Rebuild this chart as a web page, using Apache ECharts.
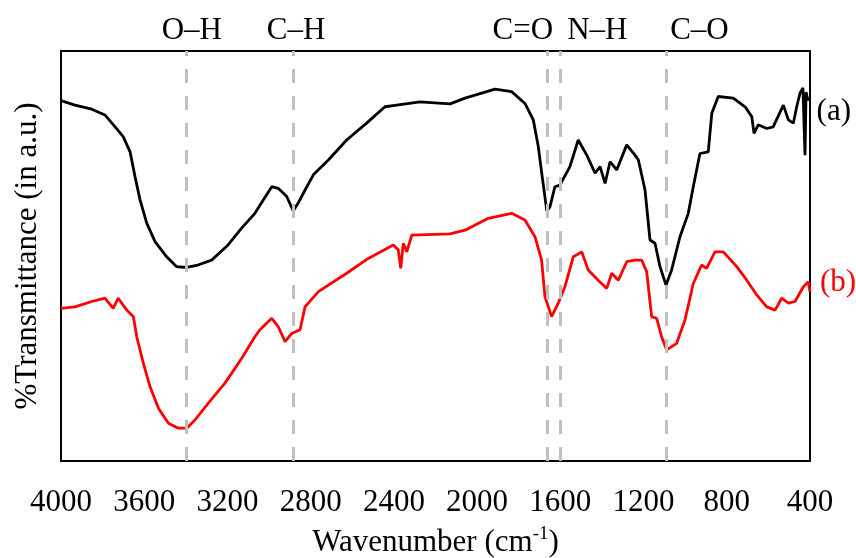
<!DOCTYPE html>
<html>
<head>
<meta charset="utf-8">
<script src="https://cdn.jsdelivr.net/npm/echarts@6/dist/echarts.min.js"></script>
<style>html,body{margin:0;padding:0;background:#fff;}#chart{width:856px;height:558px;}</style>
</head>
<body>
<div id="chart"></div>
<script>
// Wavenumber ticks
const xTicks = [4000, 3600, 3200, 2800, 2400, 2000, 1600, 1200, 800, 400];

// Spectrum (a): wavenumber (cm-1) and transmittance (a.u.)
const waveA = [4000,3933,3852,3789,3740,3701,3668,3644,3620,3588,3548,3492,3444,3396,3342,3276,3197,3132,3068,3044,2987,2956,2915,2884,2860,2827,2787,2715,2627,2531,2443,2387,2275,2130,2058,1914,1834,1770,1730,1706,1685,1665,1650,1626,1602,1554,1514,1473,1433,1409,1385,1361,1329,1281,1241,1225,1193,1169,1145,1121,1092,1065,1025,985,961,929,889,872,841,769,712,680,669,649,608,577,528,504,480,464,448,434,424,419,410,402];
const transA = [87.9,86.8,85.8,84.4,81.5,79.1,75.4,69.3,63.7,58.0,53.5,49.8,47.4,47.2,47.8,49.0,52.7,56.8,60.4,62.4,66.9,66.5,64.5,61.0,62.9,66.1,69.8,73.4,78.3,82.4,86.4,86.8,87.6,87.1,88.5,90.7,90.1,87.2,83.2,76.7,68.5,61.0,62.0,66.9,67.3,71.8,78.3,74.6,70.2,71.8,67.7,73.0,71.0,77.1,74.6,73.4,66.1,53.9,53.1,47.4,42.9,46.6,54.7,60.4,66.9,75.0,75.4,84.8,88.9,88.5,86.4,84.0,79.9,82.0,81.1,81.5,86.8,83.2,82.4,86.4,89.7,91.0,74.6,90.0,88.0,88.5];

// Spectrum (b)
const waveB = [4000,3933,3852,3789,3749,3725,3684,3652,3636,3604,3572,3532,3484,3436,3396,3356,3292,3212,3132,3068,3044,2987,2956,2923,2891,2851,2827,2763,2627,2523,2403,2379,2367,2355,2338,2314,2130,2058,1946,1834,1770,1722,1690,1674,1642,1610,1578,1538,1497,1466,1418,1377,1353,1321,1281,1241,1209,1185,1161,1137,1113,1089,1041,1001,961,921,897,857,817,752,704,656,608,568,536,504,472,432,408,400];
const transB = [37.2,37.6,38.9,39.7,37.2,39.7,36.8,35.2,30.3,23.8,18.1,12.9,9.2,8.0,8.0,10.0,14.1,19.0,25.0,30.3,32.0,34.8,32.8,29.1,31.1,32.0,37.6,41.3,45.8,49.4,52.7,51.5,47.0,53.1,51.0,55.1,55.4,56.3,59.2,60.4,58.8,54.7,49.0,40.1,35.2,38.5,42.5,49.8,51.0,46.6,44.1,42.1,45.8,44.1,48.6,49.0,49.0,46.2,35.2,34.8,30.3,27.1,28.7,34.4,43.3,47.8,47.0,51.0,51.0,47.4,44.1,40.5,37.6,36.8,39.7,38.5,38.9,42.5,43.7,41.3];

// Band assignments
const bandNames = ['O\u2013H', 'C\u2013H', 'C=O', 'N\u2013H', 'C\u2013O'];
const bandWave = [3400, 2885, 1665, 1600, 1090];
const bandLabelShift = [6, 3, -24, 37, 33];

const seriesNames = ['(a)', '(b)'];

const FONT = "'Liberation Serif', 'Times New Roman', serif";
const FS = 31;

function pairs(w, t) { return w.map((v, i) => [v, t[i]]); }

const chart = echarts.init(document.getElementById('chart'));
chart.setOption({
  animation: false,
  backgroundColor: '#fff',
  grid: { left: 61, right: 46, top: 51, bottom: 97, containLabel: false, outerBoundsMode: 'none', show: true, borderColor: '#000', borderWidth: 2, backgroundColor: 'transparent' },
  xAxis: {
    type: 'value', min: 400, max: 4000, interval: 400, inverse: true,
    axisLine: { show: true, lineStyle: { color: '#000', width: 2 } },
    axisTick: { show: false },
    splitLine: { show: false },
    axisLabel: { color: '#000', fontFamily: FONT, fontSize: FS, margin: 26, formatter: v => String(v) },
    name: '{n|Wavenumber (cm}{s|-1}{n|)}',
    nameLocation: 'middle', nameGap: 64,
    nameTextStyle: {
      rich: {
        n: { fontFamily: FONT, fontSize: FS, color: '#000' },
        s: { fontFamily: FONT, fontSize: 19, color: '#000', verticalAlign: 'top', padding: [0, 0, 16, 0] }
      }
    }
  },
  yAxis: {
    type: 'value', min: 0, max: 100,
    axisLine: { show: true, lineStyle: { color: '#000', width: 2 } },
    axisTick: { show: false }, axisLabel: { show: false }, splitLine: { show: false },
    name: '%Transmittance (in a.u.)', nameLocation: 'middle', nameGap: 18,
    nameTextStyle: { fontFamily: FONT, fontSize: FS, color: '#000' }
  },
  series: [
    {
      name: seriesNames[0], type: 'line', data: pairs(waveA, transA), showSymbol: false, symbol: 'none',
      lineStyle: { color: '#000', width: 2.8 }, z: 3,
      endLabel: { show: true, formatter: seriesNames[0], fontFamily: FONT, fontSize: FS, color: '#000', align: 'left', verticalAlign: 'middle', offset: [15, 14] },
      markLine: {
        silent: true, symbol: 'none', animation: false,
        lineStyle: { color: '#c0c0c0', width: 3, type: [14, 13] },
        label: { show: true, position: 'end', distance: 5, fontFamily: FONT, fontSize: FS, color: '#000' },
        data: bandWave.map((w, i) => ({ xAxis: w, label: { formatter: bandNames[i], offset: [bandLabelShift[i], 0] } }))
      }
    },
    {
      name: seriesNames[1], type: 'line', data: pairs(waveB, transB), showSymbol: false, symbol: 'none',
      lineStyle: { color: '#ff0000', width: 2.8 }, z: 3,
      endLabel: { show: true, formatter: seriesNames[1], fontFamily: FONT, fontSize: FS, color: '#ff0000', align: 'left', verticalAlign: 'middle', offset: [18, -9] }
    }
  ]
});
</script>
</body>
</html>
